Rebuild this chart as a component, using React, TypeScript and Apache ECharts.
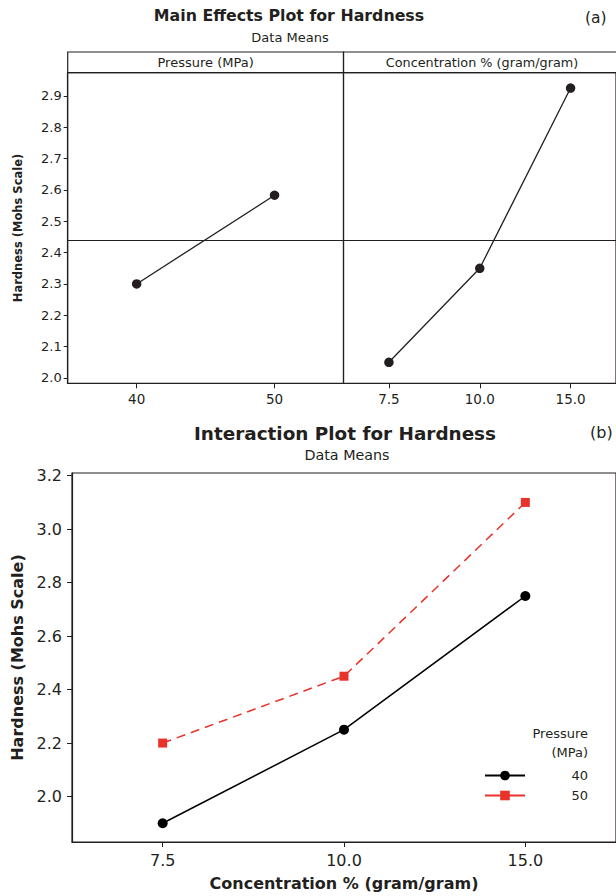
import React, { useEffect, useRef } from 'react';
import * as echarts from 'echarts';

// ---------- data ----------
const pressureLevels = ['40', '50'];
const concentrationLevels = ['7.5', '10.0', '15.0'];
const pressureMeans = [2.3, 2.583];
const concentrationMeans = [2.05, 2.35, 2.925];
const grandMean = 2.44;
const mainTicks = [2.0, 2.1, 2.2, 2.3, 2.4, 2.5, 2.6, 2.7, 2.8, 2.9];
const interactionTicks = [2.0, 2.2, 2.4, 2.6, 2.8, 3.0, 3.2];
const pressureSeriesNames = ['40', '50'];
const hardness40 = [1.9, 2.25, 2.75];
const hardness50 = [2.2, 2.45, 3.1];

const FONT = '"DejaVu Sans", Verdana, sans-serif';
const INK = '#231f20';
const RED = '#e8322a';

export default function App() {
  const ref = useRef<HTMLDivElement>(null);

  useEffect(() => {
    if (!ref.current) return;
    const chart = echarts.init(ref.current, undefined, { renderer: 'svg' });

    const fmt = (v: number) => v.toFixed(1);

    const mainY = (gridIndex: number, showLabels: boolean) => ({
      type: 'value',
      gridIndex,
      min: 1.983,
      max: 2.974,
      name: showLabels ? 'Hardness (Mohs Scale)' : '',
      nameLocation: 'middle',
      nameRotate: 90,
      nameGap: 44,
      nameTextStyle: { fontFamily: FONT, fontWeight: 'bold', fontSize: 11.5, color: INK },
      axisLine: { show: showLabels, lineStyle: { color: INK, width: 1.2 } },
      axisTick: { show: showLabels, inside: false, length: 4, customValues: mainTicks, lineStyle: { color: INK } },
      axisLabel: {
        show: showLabels,
        customValues: mainTicks,
        formatter: fmt,
        fontFamily: FONT,
        fontSize: 13,
        color: INK,
        margin: 6,
      },
      splitLine: { show: false },
    });

    const catX = (gridIndex: number, data: string[], fontSize: number, margin: number) => ({
      type: 'category',
      gridIndex,
      data,
      boundaryGap: true,
      axisLine: { show: true, lineStyle: { color: INK, width: 1.2 } },
      axisTick: { show: true, alignWithLabel: true, inside: false, length: 5, lineStyle: { color: INK } },
      axisLabel: { fontFamily: FONT, fontSize, color: INK, margin },
      splitLine: { show: false },
    });

    const refLine = {
      silent: true,
      symbol: 'none',
      label: { show: false },
      lineStyle: { color: INK, type: 'solid', width: 1 },
      data: [{ yAxis: grandMean }],
    };

    const txt = (
      text: string,
      x: number,
      y: number,
      fontSize: number,
      bold = false,
      align: string = 'center'
    ) => ({
      type: 'text',
      x,
      y,
      style: {
        text,
        fontFamily: FONT,
        fontSize,
        fontWeight: bold ? 'bold' : 'normal',
        fill: INK,
        textAlign: align,
        textVerticalAlign: 'middle',
      },
    });

    chart.setOption({
      animation: false,
      backgroundColor: '#ffffff',
      grid: [
        { left: 67.7, top: 72.7, width: 275.8, height: 310.6, show: true, borderColor: INK, borderWidth: 1.2 },
        { left: 343.5, top: 72.7, width: 277, height: 310.6, show: true, borderColor: INK, borderWidth: 1.2 },
        { left: 72, top: 473, width: 548, height: 369, show: true, borderColor: INK, borderWidth: 1.2 },
      ],
      xAxis: [
        catX(0, pressureLevels, 13.5, 9),
        catX(1, concentrationLevels, 13.5, 9),
        {
          ...catX(2, concentrationLevels, 16, 10),
          name: 'Concentration % (gram/gram)',
          nameLocation: 'middle',
          nameGap: 33,
          nameTextStyle: { fontFamily: FONT, fontWeight: 'bold', fontSize: 16, color: INK },
        },
      ],
      yAxis: [
        mainY(0, true),
        mainY(1, false),
        {
          type: 'value',
          gridIndex: 2,
          min: 1.83,
          max: 3.21,
          name: 'Hardness (Mohs Scale)',
          nameLocation: 'middle',
          nameRotate: 90,
          nameGap: 46,
          nameTextStyle: { fontFamily: FONT, fontWeight: 'bold', fontSize: 16, color: INK },
          axisLine: { show: true, lineStyle: { color: INK, width: 1.2 } },
          axisTick: { show: true, inside: false, length: 5, customValues: interactionTicks, lineStyle: { color: INK } },
          axisLabel: {
            customValues: interactionTicks,
            formatter: fmt,
            fontFamily: FONT,
            fontSize: 16,
            color: INK,
            margin: 10,
          },
          splitLine: { show: false },
        },
      ],
      legend: {
        data: pressureSeriesNames,
        orient: 'vertical',
        left: 479,
        top: 764,
        itemWidth: 40,
        itemHeight: 12,
        itemGap: 7,
        lineStyle: { type: 'solid' },
        formatter: (name: string) => `{a|${name}}`,
        textStyle: {
          fontFamily: FONT,
          fontSize: 13,
          color: INK,
          rich: { a: { width: 58, align: 'right', fontFamily: FONT, fontSize: 13, color: INK } },
        },
      },
      series: [
        {
          type: 'line',
          xAxisIndex: 0,
          yAxisIndex: 0,
          data: pressureMeans,
          symbol: 'circle',
          symbolSize: 9.5,
          itemStyle: { color: INK },
          lineStyle: { color: INK, width: 1.3 },
          markLine: refLine,
        },
        {
          type: 'line',
          xAxisIndex: 1,
          yAxisIndex: 1,
          data: concentrationMeans,
          symbol: 'circle',
          symbolSize: 9.5,
          itemStyle: { color: INK },
          lineStyle: { color: INK, width: 1.3 },
          markLine: refLine,
        },
        {
          name: pressureSeriesNames[0],
          type: 'line',
          xAxisIndex: 2,
          yAxisIndex: 2,
          data: hardness40,
          symbol: 'circle',
          symbolSize: 10,
          itemStyle: { color: '#000000' },
          lineStyle: { color: '#000000', width: 1.5 },
        },
        {
          name: pressureSeriesNames[1],
          type: 'line',
          xAxisIndex: 2,
          yAxisIndex: 2,
          data: hardness50,
          symbol: 'rect',
          symbolSize: 9,
          itemStyle: { color: RED },
          lineStyle: { color: RED, width: 1.5, type: [9, 6] },
        },
      ],
      graphic: [
        { type: 'rect', shape: { x: 67.7, y: 52, width: 275.8, height: 20.7 }, style: { fill: 'none', stroke: INK, lineWidth: 1.2 } },
        { type: 'rect', shape: { x: 343.5, y: 52, width: 277, height: 20.7 }, style: { fill: 'none', stroke: INK, lineWidth: 1.2 } },
        txt('Pressure (MPa)', 205.6, 62.5, 13),
        txt('Concentration % (gram/gram)', 482, 62.5, 12.8),
        txt('Main Effects Plot for Hardness', 289, 15, 15.8, true),
        txt('Data Means', 290, 37, 13),
        txt('(a)', 585, 18, 15.5, false, 'left'),
        txt('Interaction Plot for Hardness', 345, 433, 18.4, true),
        txt('Data Means', 347, 455, 14.3),
        txt('(b)', 590, 432, 16, false, 'left'),
        txt('Pressure', 588, 733, 13, false, 'right'),
        txt('(MPa)', 588, 752, 13, false, 'right'),
      ],
    });

    return () => chart.dispose();
  }, []);

  return (
    <div
      ref={ref}
      style={{ position: 'absolute', left: 0, top: 0, width: 616, height: 896, background: '#fff' }}
    />
  );
}
